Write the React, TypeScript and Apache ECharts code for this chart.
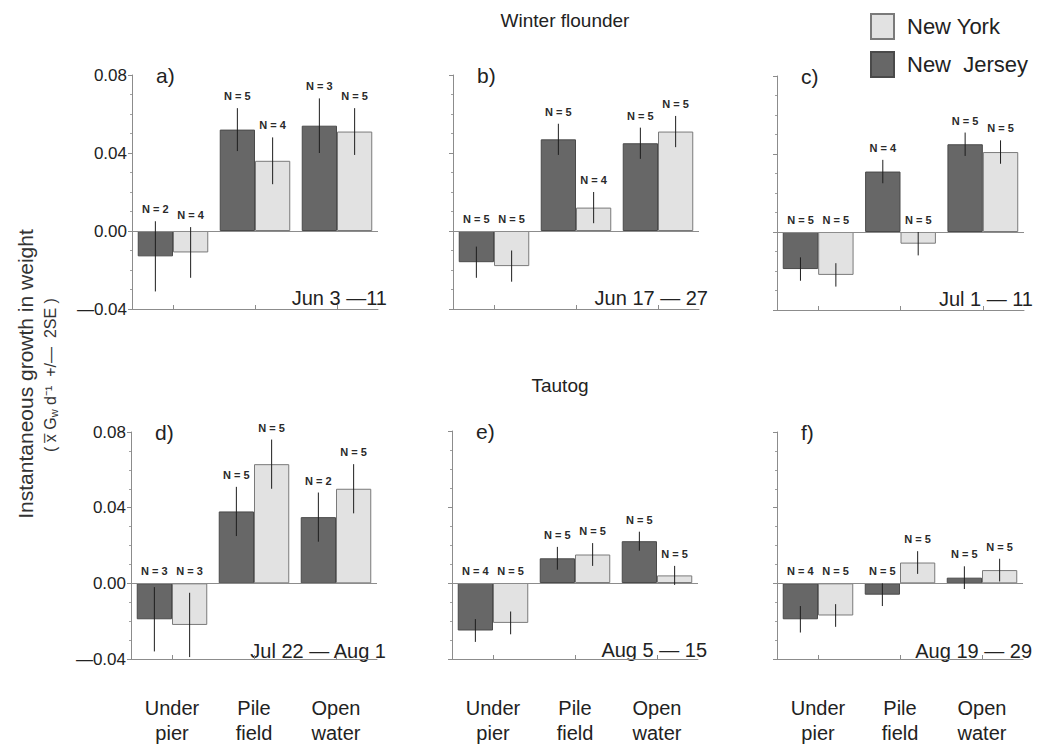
import React, { useEffect, useRef } from 'react';
import * as echarts from 'echarts';

const categories = ['Under\npier', 'Pile\nfield', 'Open\nwater'];
const panelLetters = ['a)', 'b)', 'c)', 'd)', 'e)', 'f)'];
const panelDates = ['Jun 3 \u201411', 'Jun 17 \u2014 27', 'Jul 1 \u2014 11', 'Jul 22 \u2014 Aug 1', 'Aug 5 \u2014 15', 'Aug 19 \u2014 29'];
const yTicks = [-0.04, 0.0, 0.04, 0.08];

// New Jersey means / 2SE / sample size, per panel (a..f), per site (Under pier, Pile field, Open water)
const njMean = [
  [-0.013, 0.052, 0.054],
  [-0.016, 0.047, 0.045],
  [-0.019, 0.031, 0.045],
  [-0.019, 0.038, 0.035],
  [-0.025, 0.013, 0.022],
  [-0.019, -0.006, 0.003],
];
const njErr = [
  [0.018, 0.011, 0.014],
  [0.008, 0.008, 0.008],
  [0.006, 0.006, 0.006],
  [0.017, 0.013, 0.013],
  [0.006, 0.006, 0.005],
  [0.007, 0.006, 0.006],
];
const njN = [
  [2, 5, 3],
  [5, 5, 5],
  [5, 4, 5],
  [3, 5, 2],
  [4, 5, 5],
  [4, 5, 5],
];

// New York
const nyMean = [
  [-0.011, 0.036, 0.051],
  [-0.018, 0.012, 0.051],
  [-0.022, -0.006, 0.041],
  [-0.022, 0.063, 0.05],
  [-0.021, 0.015, 0.004],
  [-0.017, 0.011, 0.007],
];
const nyErr = [
  [0.013, 0.012, 0.012],
  [0.008, 0.008, 0.008],
  [0.006, 0.006, 0.006],
  [0.017, 0.013, 0.013],
  [0.006, 0.006, 0.005],
  [0.006, 0.006, 0.006],
];
const nyN = [
  [4, 4, 5],
  [5, 4, 5],
  [5, 5, 5],
  [3, 5, 5],
  [5, 5, 5],
  [5, 5, 5],
];

const FONT = 'Liberation Sans, Arial, Helvetica, sans-serif';
const NJ_COLOR = '#676767';
const NY_COLOR = '#e2e2e2';
const CAT_GAP = 0.14;

const grids = [
  { left: 132, top: 75, width: 246, height: 234 },
  { left: 453, top: 75, width: 246, height: 234 },
  { left: 777, top: 76, width: 247, height: 234 },
  { left: 131, top: 432, width: 246, height: 230 },
  { left: 452, top: 431, width: 246, height: 230 },
  { left: 777, top: 432, width: 246, height: 230 },
];

function makeErrRender(side: number) {
  return (params: any, api: any) => {
    const cat = api.value(0);
    const v = api.value(1);
    const e = api.value(2);
    const n = api.value(3);
    const band = api.size([1, 0])[0];
    const barW = (band * (1 - CAT_GAP)) / 2;
    const base = api.coord([cat, 0]);
    const cx = base[0] + (side * barW) / 2;
    const yTop = api.coord([cat, v + e])[1];
    const yBot = api.coord([cat, v - e])[1];
    const labelY = Math.min(yTop, base[1]) - 12;
    return {
      type: 'group',
      children: [
        {
          type: 'line',
          shape: { x1: cx, y1: yTop, x2: cx, y2: yBot },
          style: { stroke: '#1e1e1e', lineWidth: 1 },
        },
        {
          type: 'text',
          x: cx,
          y: labelY,
          style: {
            text: 'N = ' + n,
            align: 'center',
            verticalAlign: 'middle',
            fontSize: 11,
            fontWeight: 'bold',
            fontFamily: FONT,
            fill: '#2a2a2a',
          },
        },
      ],
    };
  };
}

export default function App() {
  const ref = useRef<HTMLDivElement>(null);
  useEffect(() => {
    const chart = echarts.init(ref.current as HTMLDivElement, null, { renderer: 'svg' });

    const xAxes: any[] = [];
    const yAxes: any[] = [];
    const series: any[] = [];
    const graphics: any[] = [];

    grids.forEach((g, i) => {
      const bottomRow = i >= 3;
      const leftCol = i % 3 === 0;
      xAxes.push({
        type: 'category',
        gridIndex: i,
        data: categories,
        axisLine: { show: true, onZero: false, lineStyle: { color: '#8c8c8c', width: 1 } },
        axisTick: { show: true, alignWithLabel: true, inside: true, length: 4, lineStyle: { color: '#8c8c8c' } },
        axisLabel: {
          show: bottomRow,
          fontSize: 20,
          lineHeight: 25,
          margin: 36,
          color: '#222',
          fontFamily: FONT,
        },
      });
      yAxes.push({
        type: 'value',
        gridIndex: i,
        min: yTicks[0],
        max: yTicks[yTicks.length - 1],
        interval: 0.04,
        axisLine: { show: true, lineStyle: { color: '#8c8c8c', width: 1 } },
        axisTick: { show: true, length: 4, lineStyle: { color: '#8c8c8c' } },
        minorTick: { show: true, splitNumber: 4, length: 2, lineStyle: { color: '#a0a0a0' } },
        splitLine: { show: false },
        axisLabel: {
          show: leftCol,
          fontSize: 17,
          margin: 5,
          color: '#222',
          fontFamily: FONT,
          formatter: (v: number) => (v < 0 ? '\u2014' + Math.abs(v).toFixed(2) : v.toFixed(2)),
        },
      });

      series.push({
        name: 'New Jersey',
        type: 'bar',
        xAxisIndex: i,
        yAxisIndex: i,
        data: njMean[i],
        barGap: '0%',
        barCategoryGap: CAT_GAP * 100 + '%',
        itemStyle: { color: NJ_COLOR, borderColor: '#4a4a4a', borderWidth: 1 },
        markLine: {
          silent: true,
          symbol: 'none',
          label: { show: false },
          lineStyle: { color: '#8c8c8c', type: 'solid', width: 1 },
          data: [{ yAxis: 0 }],
        },
      });
      series.push({
        name: 'New York',
        type: 'bar',
        xAxisIndex: i,
        yAxisIndex: i,
        data: nyMean[i],
        barGap: '0%',
        barCategoryGap: CAT_GAP * 100 + '%',
        itemStyle: { color: NY_COLOR, borderColor: '#7a7a7a', borderWidth: 1 },
      });
      series.push({
        name: 'NJ 2SE',
        type: 'custom',
        xAxisIndex: i,
        yAxisIndex: i,
        z: 5,
        renderItem: makeErrRender(-1),
        encode: { x: 0, y: 1 },
        data: categories.map((_, j) => [j, njMean[i][j], njErr[i][j], njN[i][j]]),
      });
      series.push({
        name: 'NY 2SE',
        type: 'custom',
        xAxisIndex: i,
        yAxisIndex: i,
        z: 5,
        renderItem: makeErrRender(1),
        encode: { x: 0, y: 1 },
        data: categories.map((_, j) => [j, nyMean[i][j], nyErr[i][j], nyN[i][j]]),
      });

      graphics.push({
        type: 'text',
        left: g.left + 24,
        top: g.top - 10,
        style: { text: panelLetters[i], fontSize: 21, fontFamily: FONT, fill: '#222' },
      });
      graphics.push({
        type: 'text',
        x: Math.min(g.left + g.width + 9, 1036),
        y: g.top + g.height - 11,
        style: {
          text: panelDates[i],
          fontSize: 20,
          fontFamily: FONT,
          fill: '#222',
          align: 'right',
          verticalAlign: 'middle',
        },
      });
    });

    graphics.push({
      type: 'text',
      x: 565,
      y: 20,
      style: { text: 'Winter flounder', fontSize: 19, fontFamily: FONT, fill: '#222', align: 'center', verticalAlign: 'middle' },
    });
    graphics.push({
      type: 'text',
      x: 560,
      y: 385,
      style: { text: 'Tautog', fontSize: 19, fontFamily: FONT, fill: '#222', align: 'center', verticalAlign: 'middle' },
    });
    graphics.push({
      type: 'text',
      x: 25,
      y: 374,
      rotation: Math.PI / 2,
      style: {
        text: 'Instantaneous growth in weight',
        fontSize: 21,
        fontFamily: FONT,
        fill: '#333',
        align: 'center',
        verticalAlign: 'middle',
      },
    });
    graphics.push({
      type: 'text',
      x: 50,
      y: 375,
      rotation: Math.PI / 2,
      style: {
        text: '{n|( x\u0305 G}{sub|w}{n| d\u207b\u00b9  +/\u2014  2SE )}',
        fontSize: 16,
        fontFamily: FONT,
        fill: '#333',
        align: 'center',
        verticalAlign: 'middle',
        rich: {
          n: { fontSize: 16, fontFamily: FONT, fill: '#333' },
          sub: { fontSize: 11, fontFamily: FONT, fill: '#333', padding: [7, 0, 0, 0] },
        },
      },
    });

    chart.setOption({
      animation: false,
      backgroundColor: '#ffffff',
      legend: {
        data: ['New York', 'New Jersey'],
        orient: 'vertical',
        left: 870,
        top: 13,
        padding: 0,
        itemWidth: 23,
        itemHeight: 25,
        itemGap: 11,
        icon: 'rect',
        selectedMode: false,
        textStyle: { fontSize: 22, fontFamily: FONT, color: '#222', padding: [0, 0, 0, 8] },
        formatter: (name: string) => (name === 'New Jersey' ? 'New  Jersey' : name),
      },
      grid: grids.map((g) => ({ ...g, containLabel: false })),
      xAxis: xAxes,
      yAxis: yAxes,
      series,
      graphic: graphics,
    });

    return () => chart.dispose();
  }, []);
  return (
    <div
      ref={ref}
      style={{ position: 'fixed', left: 0, top: 0, width: 1047, height: 745, background: '#fff' }}
    />
  );
}
